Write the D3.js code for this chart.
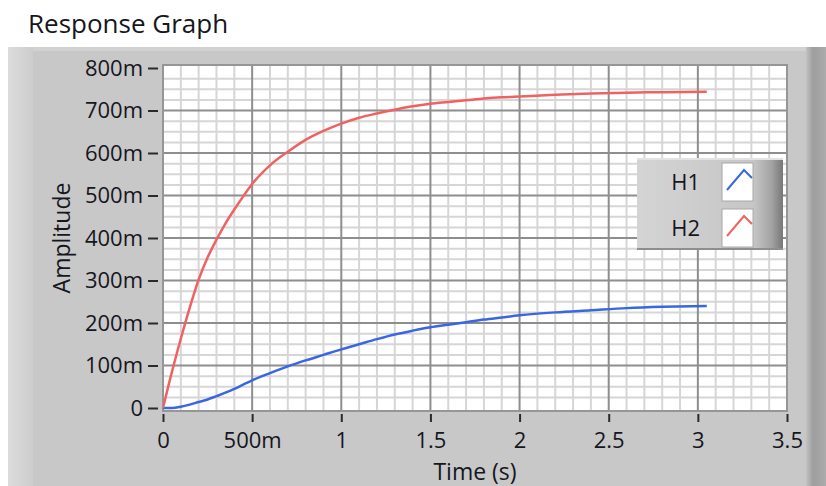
<!DOCTYPE html>
<html>
<head>
<meta charset="utf-8">
<script src="https://cdn.jsdelivr.net/npm/d3@7"></script>
<style>
  html, body { margin: 0; padding: 0; background: #fff; }
  svg { display: block; }
  text { font-family: "Open Sans", "Noto Sans", sans-serif; fill: #16161e; }
</style>
</head>
<body>
<svg id="chart" width="826" height="486"></svg>
<script>
// Step response samples (time in seconds, amplitude in volts)
const timeS = [0, 0.05, 0.1, 0.15, 0.2, 0.25, 0.3, 0.35, 0.4, 0.45, 0.5, 0.6, 0.7, 0.8, 0.9,
               1.0, 1.1, 1.2, 1.3, 1.4, 1.5, 1.6, 1.7, 1.8, 1.9, 2.0, 2.2, 2.4, 2.6, 2.8, 3.05];
const h1 = [0, 0, 0.003, 0.008, 0.014, 0.020, 0.028, 0.036, 0.045, 0.055, 0.065, 0.082, 0.098, 0.112, 0.125,
            0.138, 0.150, 0.162, 0.173, 0.182, 0.190, 0.196, 0.202, 0.208, 0.213, 0.218, 0.225, 0.230, 0.235, 0.238, 0.240];
const h2 = [0, 0.085, 0.163, 0.236, 0.302, 0.354, 0.396, 0.434, 0.467, 0.498, 0.527, 0.571, 0.603, 0.631, 0.652,
            0.669, 0.683, 0.693, 0.702, 0.710, 0.716, 0.720, 0.724, 0.728, 0.731, 0.733, 0.737, 0.740, 0.742, 0.743, 0.744];

const seriesNames = ["H1", "H2"];
const seriesColors = ["#3a66e2", "#f06262"];

const xTicks = [0, 0.5, 1, 1.5, 2, 2.5, 3, 3.5];
const xTickLabels = ["0", "500m", "1", "1.5", "2", "2.5", "3", "3.5"];
const yTicks = [0, 0.1, 0.2, 0.3, 0.4, 0.5, 0.6, 0.7, 0.8];
const yTickLabels = ["0", "100m", "200m", "300m", "400m", "500m", "600m", "700m", "800m"];

const svg = d3.select("#chart");
const defs = svg.append("defs");

// Plot geometry
const plot = { left: 163, right: 787, top: 68, bottom: 408 };
const x = d3.scaleLinear().domain([0, 3.5]).range([plot.left, plot.right]);
const y = d3.scaleLinear().domain([0, 0.8]).range([plot.bottom, plot.top]);

// Title
svg.append("text").attr("x", 28).attr("y", 33)
  .style("font-size", "26px").text("Response Graph");

// Gray panel with bevelled edges
const leftGrad = defs.append("linearGradient").attr("id", "leftEdge");
leftGrad.append("stop").attr("offset", "0%").attr("stop-color", "#dcdcdc");
leftGrad.append("stop").attr("offset", "100%").attr("stop-color", "#cdcdcd");
const rightGrad = defs.append("linearGradient").attr("id", "rightEdge");
rightGrad.append("stop").attr("offset", "0%").attr("stop-color", "#c2c2c2");
rightGrad.append("stop").attr("offset", "35%").attr("stop-color", "#9e9e9e");
rightGrad.append("stop").attr("offset", "100%").attr("stop-color", "#ababab");

svg.append("rect").attr("x", 8).attr("y", 47).attr("width", 818).attr("height", 439).attr("fill", "#c8c8c8");
svg.append("rect").attr("x", 8).attr("y", 47).attr("width", 818).attr("height", 4).attr("fill", "#d2d2d2");
svg.append("rect").attr("x", 8).attr("y", 47).attr("width", 25).attr("height", 439).attr("fill", "url(#leftEdge)");
svg.append("rect").attr("x", 806).attr("y", 47).attr("width", 20).attr("height", 439).attr("fill", "url(#rightEdge)");

// Plot background
svg.append("rect")
  .attr("x", plot.left).attr("y", plot.top - 3)
  .attr("width", plot.right - plot.left).attr("height", plot.bottom - plot.top + 6)
  .attr("fill", "#ffffff");

// Grid: minor lines first, then majors
const grid = svg.append("g");
const xMinor = d3.range(0, 3.5001, 0.1).filter(v => Math.abs(v / 0.5 - Math.round(v / 0.5)) > 1e-6);
const yMinor = d3.range(0, 0.8001, 0.025).filter(v => Math.abs(v / 0.1 - Math.round(v / 0.1)) > 1e-6);
grid.selectAll(".xminor").data(xMinor).join("line")
  .attr("x1", d => x(d)).attr("x2", d => x(d))
  .attr("y1", plot.top - 3).attr("y2", plot.bottom + 3)
  .attr("stroke", "#d6d6d6").attr("stroke-width", 2);
grid.selectAll(".yminor").data(yMinor).join("line")
  .attr("x1", plot.left).attr("x2", plot.right)
  .attr("y1", d => y(d)).attr("y2", d => y(d))
  .attr("stroke", "#d6d6d6").attr("stroke-width", 2);
grid.selectAll(".xmajor").data(xTicks.slice(1, -1)).join("line")
  .attr("x1", d => x(d)).attr("x2", d => x(d))
  .attr("y1", plot.top - 3).attr("y2", plot.bottom + 3)
  .attr("stroke", "#8e8e8e").attr("stroke-width", 2);
grid.selectAll(".ymajor").data(yTicks.slice(1, -1)).join("line")
  .attr("x1", plot.left).attr("x2", plot.right)
  .attr("y1", d => y(d)).attr("y2", d => y(d))
  .attr("stroke", "#8e8e8e").attr("stroke-width", 2);

// Plot frame
svg.append("rect")
  .attr("x", plot.left).attr("y", plot.top - 3)
  .attr("width", plot.right - plot.left).attr("height", plot.bottom - plot.top + 6)
  .attr("fill", "none").attr("stroke", "#969696").attr("stroke-width", 2);

// Axes
const yAxis = d3.axisLeft(y).tickValues(yTicks)
  .tickFormat((d, i) => yTickLabels[i]).tickSizeInner(10).tickSizeOuter(0).tickPadding(5);
const gy = svg.append("g").attr("transform", `translate(158,0)`).call(yAxis);
gy.select(".domain").remove();
gy.selectAll(".tick line").attr("stroke", "#2a2a2a").attr("stroke-width", 2);
gy.selectAll(".tick text").style("font-size", "22px").attr("fill", "#16161e").style("font-family", null);

const xAxis = d3.axisBottom(x).tickValues(xTicks)
  .tickFormat((d, i) => xTickLabels[i]).tickSizeInner(8).tickSizeOuter(0).tickPadding(10);
const gx = svg.append("g").attr("transform", `translate(0,414)`).call(xAxis);
gx.select(".domain").remove();
gx.selectAll(".tick line").attr("stroke", "#2a2a2a").attr("stroke-width", 2);
gx.selectAll(".tick text").style("font-size", "22px").attr("fill", "#16161e").style("font-family", null);

// Axis names
svg.append("text")
  .attr("x", (plot.left + plot.right) / 2).attr("y", 480)
  .attr("text-anchor", "middle").style("font-size", "23px").text("Time (s)");
svg.append("text")
  .attr("transform", `translate(70,${(plot.top + plot.bottom) / 2}) rotate(-90)`)
  .attr("text-anchor", "middle").style("font-size", "23px").text("Amplitude");

// Curves
defs.append("clipPath").attr("id", "plotClip").append("rect")
  .attr("x", plot.left).attr("y", plot.top - 3)
  .attr("width", plot.right - plot.left).attr("height", plot.bottom - plot.top + 6);
const line = d3.line().x(d => x(d[0])).y(d => y(d[1])).curve(d3.curveMonotoneX);
const curves = svg.append("g").attr("clip-path", "url(#plotClip)");
[h1, h2].forEach((vals, i) => {
  curves.append("path")
    .datum(timeS.map((t, k) => [t, vals[k]]))
    .attr("d", line)
    .attr("fill", "none")
    .attr("stroke", seriesColors[i])
    .attr("stroke-width", 2.5)
    .attr("stroke-linejoin", "round");
});

// Legend
const legGrad = defs.append("linearGradient").attr("id", "legendFill");
legGrad.append("stop").attr("offset", "0%").attr("stop-color", "#d4d4d4");
legGrad.append("stop").attr("offset", "80%").attr("stop-color", "#c6c6c6");
legGrad.append("stop").attr("offset", "92%").attr("stop-color", "#a4a4a4");
legGrad.append("stop").attr("offset", "100%").attr("stop-color", "#777777");
const legend = svg.append("g").attr("transform", "translate(637,158)");
legend.append("rect").attr("width", 146).attr("height", 92).attr("fill", "url(#legendFill)");
legend.append("rect").attr("width", 146).attr("height", 2).attr("fill", "#e2e2e2");
legend.append("rect").attr("y", 90).attr("width", 146).attr("height", 2).attr("fill", "#8e8e8e");

const legItems = legend.selectAll(".item").data(seriesNames).join("g")
  .attr("transform", (d, i) => `translate(0,${5 + i * 46})`);
legItems.append("text")
  .attr("x", 63).attr("y", 19).attr("dy", "0.35em")
  .attr("text-anchor", "end").style("font-size", "22px")
  .text(d => d);
legItems.append("rect")
  .attr("x", 85).attr("y", 0).attr("width", 31).attr("height", 38)
  .attr("fill", "#ffffff").attr("stroke", "#a8a8a8").attr("stroke-width", 1);
legItems.append("polyline")
  .attr("points", "90,27 107,7 115,15")
  .attr("fill", "none")
  .attr("stroke", (d, i) => seriesColors[i])
  .attr("stroke-width", 2);
</script>
</body>
</html>
